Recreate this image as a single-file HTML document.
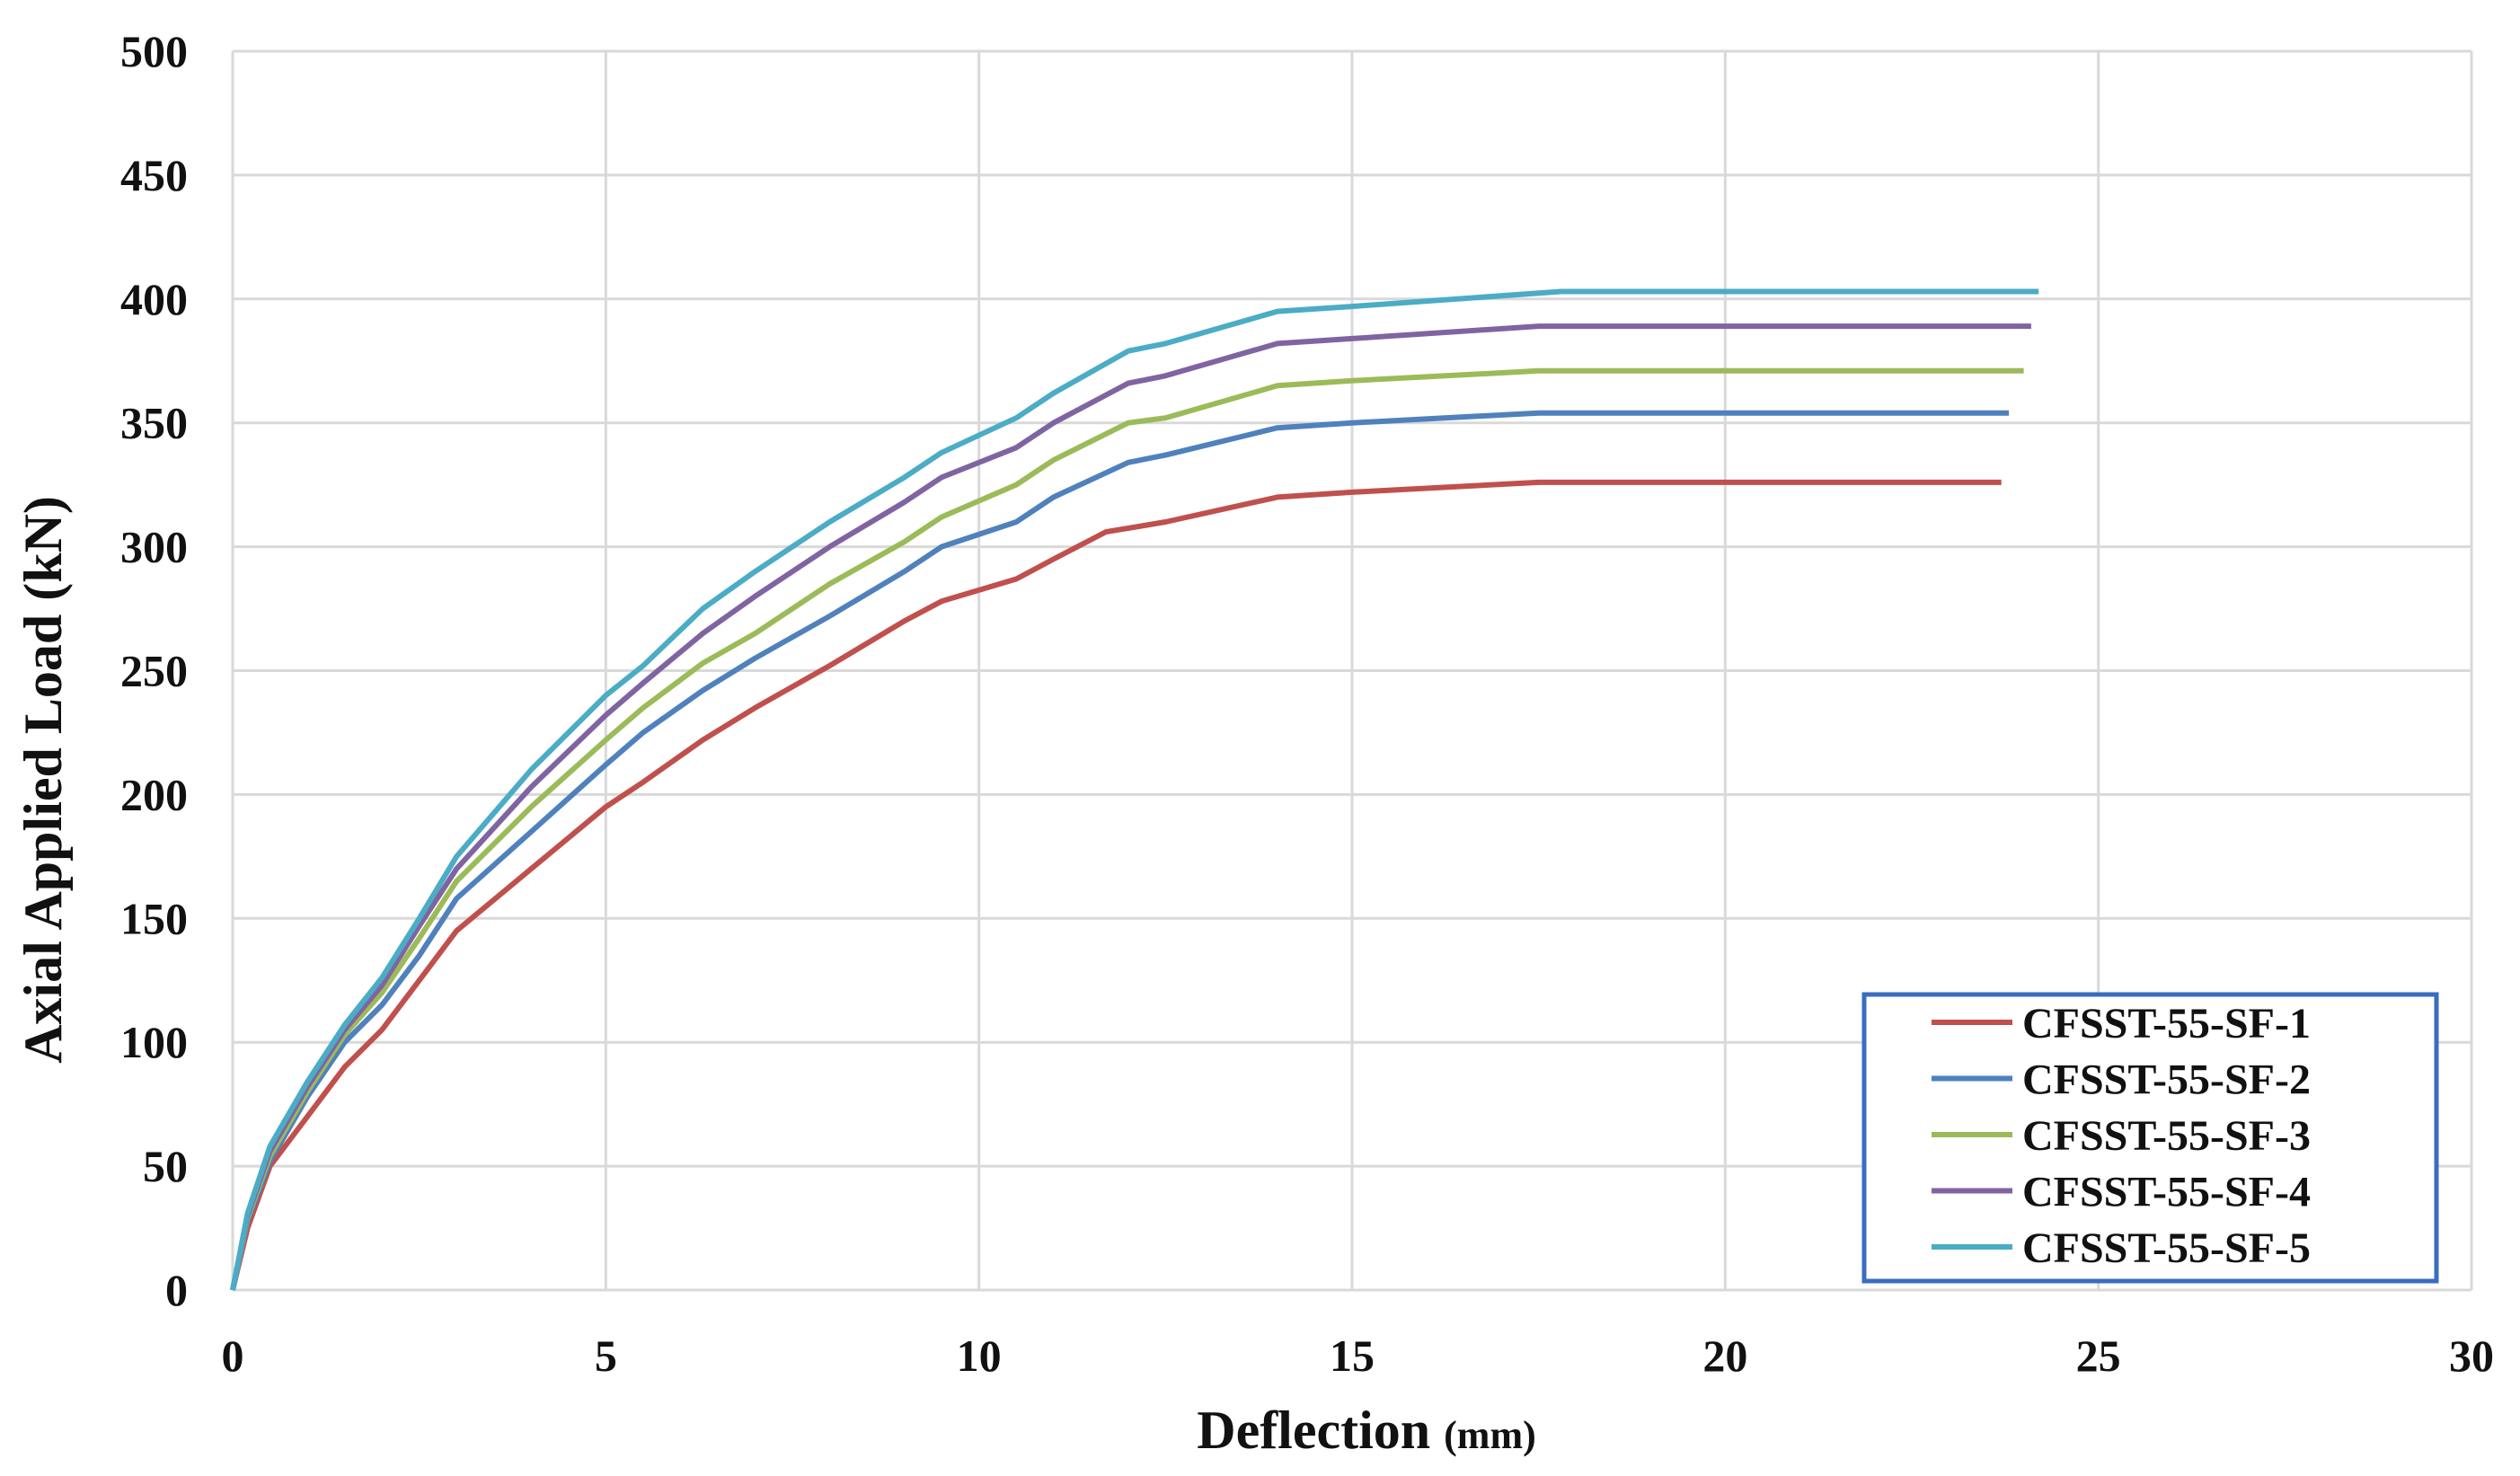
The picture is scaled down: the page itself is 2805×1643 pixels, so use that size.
<!DOCTYPE html>
<html><head><meta charset="utf-8"><style>
html,body{margin:0;padding:0;background:#fff;}
svg{display:block;font-family:"Liberation Serif",serif;font-weight:bold;}
</style></head><body>
<svg id="chart" width="2805" height="1643" viewBox="0 0 2805 1643">
<g id="grid"></g>
<g id="series"></g>
<g id="ticks"></g>
<text x="48" y="868" transform="rotate(-90 48 868)" text-anchor="middle" dominant-baseline="central" font-size="60" fill="#111">Axial Applied Load (kN)</text>
<text x="1521" y="1612" text-anchor="middle" font-size="60" fill="#111">Deflection <tspan font-size="44">(mm)</tspan></text>
<g id="legend">
<rect x="2075" y="1107" width="637" height="319" fill="#fff" stroke="#3a6cc0" stroke-width="5"/>
</g>
</svg>
<script>
const xTicks=[0,5,10,15,20,25,30];
const yTicks=[0,50,100,150,200,250,300,350,400,450,500];
const seriesNames=["CFSST-55-SF-1","CFSST-55-SF-2","CFSST-55-SF-3","CFSST-55-SF-4","CFSST-55-SF-5"];
const seriesColors=["#c0504d","#4f81bd","#9bbb59","#8064a2","#4bacc6"];
const sf1X=[0,0.2,0.5,1,1.5,2,2.5,3,4,5,5.5,6.3,7,8,9,9.5,10.5,11,11.7,12.5,14,15,17.5,23.7];
const sf1Y=[0,25,50,70,90,105,125,145,170,195,205,222,235,252,270,278,287,295,306,310,320,322,326,326];
const sf2X=[0,0.2,0.5,1,1.5,2,2.5,3,4,5,5.5,6.3,7,8,9,9.5,10.5,11,12,12.5,14,15,17.5,23.8];
const sf2Y=[0,28,52,78,100,115,135,158,185,212,225,242,255,272,290,300,310,320,334,337,348,350,354,354];
const sf3X=[0,0.2,0.5,1,1.5,2,2.5,3,4,5,5.5,6.3,7,8,9,9.5,10.5,11,12,12.5,14,15,17.5,24];
const sf3Y=[0,29,54,80,103,120,142,165,195,222,235,253,265,285,302,312,325,335,350,352,365,367,371,371];
const sf4X=[0,0.2,0.5,1,1.5,2,2.5,3,4,5,5.5,6.3,7,8,9,9.5,10.5,11,12,12.5,14,15,17.5,24.1];
const sf4Y=[0,30,56,82,105,123,147,170,203,232,245,265,280,300,318,328,340,350,366,369,382,384,389,389];
const sf5X=[0,0.2,0.5,1,1.5,2,2.5,3,4,5,5.5,6.3,7,8,9,9.5,10.5,11,12,12.5,14,15,17.8,24.2];
const sf5Y=[0,31,58,84,107,126,150,175,210,240,252,275,290,310,328,338,352,362,379,382,395,397,403,403];
const allX=[sf1X,sf2X,sf3X,sf4X,sf5X];
const allY=[sf1Y,sf2Y,sf3Y,sf4Y,sf5Y];

const NS="http://www.w3.org/2000/svg";
const X0=259,X1=2751,Y0=1436,Y1=57;
function sx(v){return X0+(v-0)/(30-0)*(X1-X0);}
function sy(v){return Y0-(v-0)/(500-0)*(Y0-Y1);}
function mk(tag,attrs,parent){const e=document.createElementNS(NS,tag);for(const k in attrs)e.setAttribute(k,attrs[k]);parent.appendChild(e);return e;}
const grid=document.getElementById('grid'),ticks=document.getElementById('ticks'),series=document.getElementById('series'),legend=document.getElementById('legend');
yTicks.forEach(t=>{
  const l=mk('line',{x1:X0,x2:X1,y1:sy(t),y2:sy(t),stroke:'#d9d9d9','stroke-width':3},grid);
  
  
  const tx=mk('text',{x:209,y:sy(t)+17,'text-anchor':'end','font-size':50,fill:'#111'},ticks);
  tx.textContent=t;
  
  
});
xTicks.forEach(t=>{
  const l=mk('line',{x1:sx(t),x2:sx(t),y1:Y1,y2:Y0,stroke:'#d9d9d9','stroke-width':3},grid);
  
  
  const tx=mk('text',{x:sx(t),y:1526,'text-anchor':'middle','font-size':50,fill:'#111'},ticks);
  tx.textContent=t;
  
  
});
allX.forEach((xs,i)=>{
  const pts=xs.map((x,j)=>sx(x).toFixed(1)+','+sy(allY[i][j]).toFixed(1)).join(' ');
  const p=mk('polyline',{points:pts,fill:'none',stroke:seriesColors[i],'stroke-width':6,'stroke-linejoin':'round'},series);
  
  
  const ly=1138+i*62.5;
  const ll=mk('line',{x1:2150,x2:2240,y1:ly,y2:ly,stroke:seriesColors[i],'stroke-width':6},legend);
  
  
  const lt=mk('text',{x:2251,y:ly+17,'font-size':48,fill:'#111'},legend);
  lt.textContent=seriesNames[i];
  
  
});
</script>
</body></html>
